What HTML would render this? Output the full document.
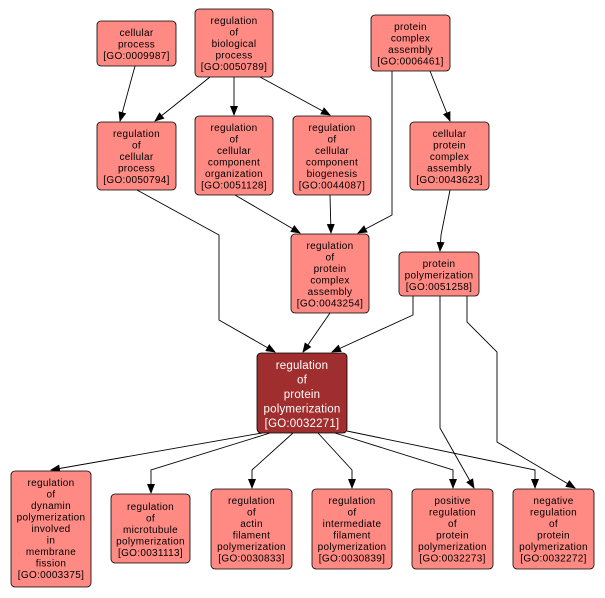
<!DOCTYPE html>
<html><head><style>
body{margin:0;background:#fff}
svg{display:block}
text{font-family:"Liberation Sans",sans-serif;font-size:10px;letter-spacing:0.3px;fill:#000;text-anchor:middle}
.w{fill:#fff;font-size:11.5px;letter-spacing:0.2px}
.n{fill:#ff8a84;stroke:#000;stroke-width:0.8}
.d{fill:#a12e2e;stroke:#000;stroke-width:0.8}
.e{fill:none;stroke:#000;stroke-width:0.9}
</style></head><body>
<svg width="605" height="598" viewBox="0 0 605 598" xmlns="http://www.w3.org/2000/svg">
<defs><marker id="a" markerWidth="10" markerHeight="10" refX="9" refY="5" orient="auto" markerUnits="userSpaceOnUse"><path d="M0,1 L10,5 L0,9 z" fill="#000"/></marker></defs>
<g class="e" marker-end="url(#a)">
<polyline points="135,66 120,121"/>
<polyline points="210,77 155,121"/>
<polyline points="234,77 234,115"/>
<polyline points="260,77 330,115"/>
<polyline points="392,71 392,215 358,233"/>
<polyline points="430,71 450,121"/>
<polyline points="137,190 219,235 219,320 275,352"/>
<polyline points="235,195 300,233"/>
<polyline points="330,195 331,233"/>
<polyline points="450,190 441,235 440,251"/>
<polyline points="330,313 303,352"/>
<polyline points="413,296 413,315 332,352"/>
<polyline points="440,296 440,428 474,488"/>
<polyline points="467,296 467,322 497,352 497,442 575,488"/>
<polyline points="262,433 51,470"/>
<polyline points="270,433 151,470 151,493"/>
<polyline points="293,433 252,470 252,488"/>
<polyline points="318,433 352,470 352,488"/>
<polyline points="335,433 453,470 453,488"/>
<polyline points="347,431 535,470 535,488"/>
</g>
<rect class="n" x="97" y="21" width="79" height="45" rx="4"/>
<text x="136.5" y="36">cellular</text><text x="136.5" y="47.5">process</text><text x="136.5" y="59">[GO:0009987]</text>
<rect class="n" x="195" y="9" width="78" height="68" rx="4"/>
<text x="234" y="24">regulation</text><text x="234" y="35.5">of</text><text x="234" y="47">biological</text><text x="234" y="58.5">process</text><text x="234" y="70">[GO:0050789]</text>
<rect class="n" x="371" y="15" width="79" height="56" rx="4"/>
<text x="410.5" y="30">protein</text><text x="410.5" y="41.5">complex</text><text x="410.5" y="53">assembly</text><text x="410.5" y="64.5">[GO:0006461]</text>
<rect class="n" x="97" y="122" width="79" height="68" rx="4"/>
<text x="136.5" y="137">regulation</text><text x="136.5" y="148.5">of</text><text x="136.5" y="160">cellular</text><text x="136.5" y="171.5">process</text><text x="136.5" y="183">[GO:0050794]</text>
<rect class="n" x="195" y="116" width="78" height="79" rx="4"/>
<text x="234" y="131">regulation</text><text x="234" y="142.5">of</text><text x="234" y="154">cellular</text><text x="234" y="165.5">component</text><text x="234" y="177">organization</text><text x="234" y="188.5">[GO:0051128]</text>
<rect class="n" x="293" y="116" width="78" height="79" rx="4"/>
<text x="332" y="131">regulation</text><text x="332" y="142.5">of</text><text x="332" y="154">cellular</text><text x="332" y="165.5">component</text><text x="332" y="177">biogenesis</text><text x="332" y="188.5">[GO:0044087]</text>
<rect class="n" x="410" y="122" width="79" height="68" rx="4"/>
<text x="449.5" y="137">cellular</text><text x="449.5" y="148.5">protein</text><text x="449.5" y="160">complex</text><text x="449.5" y="171.5">assembly</text><text x="449.5" y="183">[GO:0043623]</text>
<rect class="n" x="291" y="234" width="78" height="79" rx="4"/>
<text x="330" y="249">regulation</text><text x="330" y="260.5">of</text><text x="330" y="272">protein</text><text x="330" y="283.5">complex</text><text x="330" y="295">assembly</text><text x="330" y="306.5">[GO:0043254]</text>
<rect class="n" x="399" y="252" width="80" height="44" rx="4"/>
<text x="439" y="267">protein</text><text x="439" y="278.5">polymerization</text><text x="439" y="290">[GO:0051258]</text>
<rect class="d" x="257" y="353" width="90" height="80" rx="4"/>
<text class="w" x="302" y="369">regulation</text><text class="w" x="302" y="383.5">of</text><text class="w" x="302" y="398">protein</text><text class="w" x="302" y="412.5">polymerization</text><text class="w" x="302" y="427">[GO:0032271]</text>
<rect class="n" x="11" y="471" width="80" height="116" rx="4"/>
<text x="51" y="486">regulation</text><text x="51" y="497.5">of</text><text x="51" y="509">dynamin</text><text x="51" y="520.5">polymerization</text><text x="51" y="532">involved</text><text x="51" y="543.5">in</text><text x="51" y="555">membrane</text><text x="51" y="566.5">fission</text><text x="51" y="578">[GO:0003375]</text>
<rect class="n" x="111" y="494" width="79" height="69" rx="4"/>
<text x="150.5" y="510">regulation</text><text x="150.5" y="521.5">of</text><text x="150.5" y="533">microtubule</text><text x="150.5" y="544.5">polymerization</text><text x="150.5" y="556">[GO:0031113]</text>
<rect class="n" x="211" y="489" width="81" height="80" rx="4"/>
<text x="251.5" y="504">regulation</text><text x="251.5" y="515.5">of</text><text x="251.5" y="527">actin</text><text x="251.5" y="538.5">filament</text><text x="251.5" y="550">polymerization</text><text x="251.5" y="561.5">[GO:0030833]</text>
<rect class="n" x="312" y="489" width="80" height="80" rx="4"/>
<text x="352" y="504">regulation</text><text x="352" y="515.5">of</text><text x="352" y="527">intermediate</text><text x="352" y="538.5">filament</text><text x="352" y="550">polymerization</text><text x="352" y="561.5">[GO:0030839]</text>
<rect class="n" x="412" y="489" width="81" height="80" rx="4"/>
<text x="452.5" y="504">positive</text><text x="452.5" y="515.5">regulation</text><text x="452.5" y="527">of</text><text x="452.5" y="538.5">protein</text><text x="452.5" y="550">polymerization</text><text x="452.5" y="561.5">[GO:0032273]</text>
<rect class="n" x="513" y="489" width="81" height="80" rx="4"/>
<text x="553.5" y="504">negative</text><text x="553.5" y="515.5">regulation</text><text x="553.5" y="527">of</text><text x="553.5" y="538.5">protein</text><text x="553.5" y="550">polymerization</text><text x="553.5" y="561.5">[GO:0032272]</text>
</svg>
</body></html>
